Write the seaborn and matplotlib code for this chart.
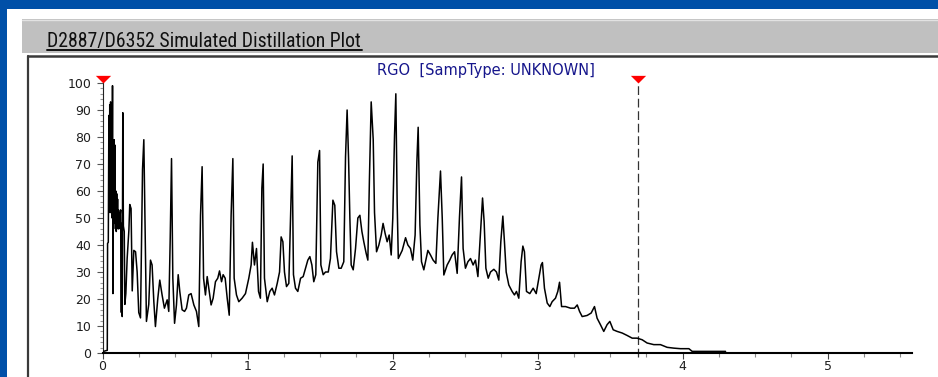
import matplotlib
matplotlib.use("Agg")
import numpy as np
import pandas as pd
import seaborn as sns
import matplotlib.pyplot as plt
from matplotlib.patches import Rectangle
from matplotlib.lines import Line2D
from matplotlib.ticker import MultipleLocator
import logging
logging.getLogger("matplotlib.font_manager").setLevel(logging.ERROR)

# ---------------- data ----------------
rt = [0.000, 0.020, 0.033, 0.035, 0.040, 0.044, 0.047, 0.050, 0.053, 0.056,
      0.059, 0.062, 0.066, 0.069, 0.072, 0.075, 0.078, 0.080, 0.083, 0.086,
      0.089, 0.092, 0.095, 0.098, 0.101, 0.104, 0.107, 0.110, 0.113, 0.116,
      0.120, 0.125, 0.130, 0.133, 0.136, 0.140, 0.144, 0.150, 0.154,
      0.161, 0.170, 0.182, 0.188, 0.197, 0.205, 0.216, 0.228, 0.239, 0.250,
      0.262, 0.276, 0.285, 0.294, 0.303, 0.319, 0.331, 0.342, 0.354, 0.365,
      0.381, 0.395, 0.411, 0.427, 0.446, 0.457, 0.467, 0.476, 0.485, 0.497,
      0.510, 0.522, 0.533, 0.549, 0.566, 0.579, 0.595, 0.611, 0.630, 0.648,
      0.664, 0.676, 0.687, 0.697, 0.710, 0.722, 0.736, 0.749, 0.763, 0.779,
      0.795, 0.807, 0.821, 0.832, 0.846, 0.860, 0.874, 0.887, 0.899, 0.908,
      0.924, 0.940, 0.963, 0.986, 1.009, 1.025, 1.034, 1.048, 1.062, 1.076,
      1.089, 1.099, 1.108, 1.117, 1.136, 1.154, 1.170, 1.186, 1.205, 1.221,
      1.232, 1.244, 1.255, 1.269, 1.285, 1.299, 1.308, 1.317, 1.331, 1.347,
      1.366, 1.384, 1.400, 1.416, 1.430, 1.444, 1.457, 1.471, 1.485, 1.497,
      1.506, 1.522, 1.538, 1.557, 1.572, 1.589, 1.602, 1.614, 1.630, 1.646,
      1.664, 1.676, 1.687, 1.697, 1.706, 1.715, 1.729, 1.745, 1.761, 1.775,
      1.789, 1.802, 1.818, 1.830, 1.841, 1.853, 1.867, 1.876, 1.890, 1.906,
      1.922, 1.935, 1.949, 1.963, 1.977, 1.991, 2.002, 2.014, 2.023, 2.032,
      2.040, 2.067, 2.090, 2.106, 2.124, 2.140, 2.156, 2.168, 2.177, 2.189,
      2.200, 2.216, 2.230, 2.244, 2.262, 2.280, 2.299, 2.313, 2.331, 2.343,
      2.354, 2.377, 2.395, 2.411, 2.428, 2.446, 2.462, 2.476, 2.487, 2.503,
      2.520, 2.538, 2.556, 2.572, 2.589, 2.602, 2.621, 2.632, 2.644, 2.660,
      2.676, 2.699, 2.717, 2.733, 2.747, 2.761, 2.772, 2.784, 2.802, 2.825,
      2.841, 2.855, 2.871, 2.887, 2.899, 2.910, 2.924, 2.947, 2.970, 2.991,
      3.009, 3.025, 3.034, 3.048, 3.067, 3.085, 3.101, 3.124, 3.140, 3.152,
      3.166, 3.193, 3.228, 3.255, 3.274, 3.290, 3.308, 3.342, 3.370, 3.393,
      3.411, 3.434, 3.457, 3.480, 3.499, 3.522, 3.549, 3.584, 3.618, 3.653,
      3.687, 3.722, 3.756, 3.802, 3.848, 3.894, 3.940, 3.986, 4.044, 4.067,
      4.297]

signal = [0.5, 0.8, 1.0, 40.6, 41.0, 88.0, 55.0, 92.0, 52.0, 93.0,
          56.0, 85.0, 50.0, 99.0, 22.0, 67.0, 50.0, 79.0, 48.0, 77.0,
          46.0, 60.0, 45.0, 59.0, 47.0, 57.0, 46.0, 53.0, 46.0, 52.0,
          50.0, 53.0, 15.0, 48.0, 13.5, 89.0, 47.0, 45.0, 18.0,
          22.0, 35.0, 45.5, 55.0, 53.5, 23.0, 38.0, 37.5, 30.0, 15.0,
          13.0, 68.0, 79.0, 46.0, 11.7, 18.0, 34.4, 32.6, 19.0, 9.8,
          20.0, 27.0, 21.5, 16.6, 19.7, 15.4, 42.4, 72.0, 27.7, 11.0,
          17.8, 29.0, 22.8, 16.0, 15.4, 16.6, 21.5, 22.0, 17.8, 15.4,
          9.8, 51.0, 69.0, 27.7, 21.5, 28.3, 22.8, 17.8, 20.3, 26.4,
          27.7, 30.4, 26.4, 29.0, 27.7, 20.3, 14.0, 51.0, 72.0, 27.7,
          21.5, 19.0, 20.3, 22.0, 27.7, 32.6, 41.0, 32.6, 38.7, 22.8,
          20.3, 61.0, 70.0, 27.7, 19.0, 22.8, 24.0, 21.5, 25.8, 30.0,
          43.0, 41.2, 30.0, 24.6, 25.8, 54.7, 73.0, 29.0, 24.0, 22.8,
          27.7, 28.3, 31.4, 34.4, 35.7, 32.6, 26.4, 29.0, 70.7, 75.0,
          32.6, 29.0, 30.0, 30.0, 35.0, 56.6, 54.7, 37.5, 31.4, 31.4,
          33.8, 72.6, 90.0, 72.0, 50.0, 32.6, 30.8, 38.7, 50.0, 51.0,
          45.0, 41.2, 37.0, 34.4, 64.6, 93.0, 79.0, 52.0, 37.5, 40.0,
          43.7, 48.0, 44.3, 41.2, 43.7, 36.3, 50.0, 80.6, 96.0, 56.0,
          35.0, 38.0, 42.7, 40.0, 38.7, 34.4, 43.7, 70.7, 83.6, 47.4,
          33.8, 30.8, 34.4, 38.0, 36.3, 34.4, 33.2, 50.0, 67.4, 50.0,
          28.9, 32.6, 34.4, 36.3, 37.5, 29.5, 50.4, 65.2, 38.7, 31.4,
          33.8, 35.0, 32.6, 34.4, 28.3, 40.0, 57.4, 48.6, 31.4, 27.7,
          30.0, 31.0, 30.0, 27.0, 41.2, 50.7, 41.2, 30.0, 25.2, 22.8,
          21.5, 22.8, 20.3, 33.8, 39.6, 37.5, 22.8, 22.0, 24.0, 22.0,
          27.7, 32.6, 33.5, 24.0, 18.5, 17.2, 19.0, 20.3, 22.8, 26.2,
          17.2, 17.2, 16.6, 16.6, 17.8, 15.4, 13.5, 13.9, 14.8, 17.2,
          12.9, 10.5, 8.0, 10.5, 11.7, 8.6, 8.0, 7.4, 6.5, 5.5,
          5.5, 4.9, 3.7, 3.1, 3.1, 2.1, 1.8, 1.6, 1.6, 0.6,
          0.6]

x_ticks = [0, 1, 2, 3, 4, 5]
y_ticks = [0, 10, 20, 30, 40, 50, 60, 70, 80, 90, 100]
marker_rt = [0.0, 3.69]
marker_level = [100, 100]
cut_rt = 3.69

header = "D2887/D6352 Simulated Distillation Plot"
plot_title = "RGO  [SampType: UNKNOWN]"

# ---------------- figure ----------------
sns.set_style("white")
plt.rcParams["font.family"] = ["DejaVu Sans"]

W, H = 938, 377
fig = plt.figure(figsize=(W / 100, H / 100), dpi=100)
fig.patch.set_facecolor("#0050A8")

def fx(px):
    return px / W

def fy(py):
    return 1 - py / H

# white panel
fig.add_artist(Rectangle((fx(7), 0), 1 - fx(7), fy(9), transform=fig.transFigure,
                         facecolor="white", edgecolor="none", zorder=-10))
# grey header bar
fig.add_artist(Rectangle((fx(22), fy(53)), 1 - fx(22), (53 - 19) / H, transform=fig.transFigure,
                         facecolor="#C0C0C0", edgecolor="none", zorder=-9))
fig.add_artist(Line2D([fx(22), 1], [fy(19.5), fy(19.5)], transform=fig.transFigure,
                      color="#E2E2E2", lw=1.0, zorder=-8))
# plot frame
fig.add_artist(Line2D([fx(27.5), fx(27.5)], [0, fy(56)], transform=fig.transFigure,
                      color="#3A3A3A", lw=1.6, zorder=-8))
fig.add_artist(Line2D([fx(27.5), 1], [fy(56), fy(56)], transform=fig.transFigure,
                      color="#3A3A3A", lw=1.8, zorder=-8))

# header text (fit to the reference width) + underline
hdr = fig.text(fx(47), fy(46.5), header, ha="left", va="baseline", fontsize=14,
               family=["DejaVu Sans Condensed", "Liberation Sans Narrow", "Roboto Condensed",
                       "Roboto", "DejaVu Sans"],
               fontstretch="condensed", color="#101010")
renderer = fig.canvas.get_renderer()
w = hdr.get_window_extent(renderer).width
if w > 0:
    hdr.set_fontsize(14 * 315.0 / w)
fig.add_artist(Line2D([fx(47), fx(362)], [fy(49.5), fy(49.5)], transform=fig.transFigure,
                      color="#101010", lw=1.4))

# plot title
fig.text(fx(486), fy(70), plot_title, ha="center", va="center", fontsize=10.5,
         color="#16168C")

# axes
x0_px, x1_px = 102.5, 912
y0_px, y100_px = 353, 83
ax = fig.add_axes([fx(x0_px), fy(y0_px), (x1_px - x0_px) / W, (y0_px - y100_px) / H])
ax.set_facecolor("none")

df = pd.DataFrame({"rt": rt, "signal": signal})
sns.lineplot(data=df, x="rt", y="signal", estimator=None, sort=False,
             color="black", lw=1.1, ax=ax, zorder=3)

ax.set_xlim(0, (x1_px - x0_px) / 145.0)
ax.set_ylim(0, 100)
ax.set_xlabel("")
ax.set_ylabel("")
ax.set_xticks(x_ticks)
ax.set_xticklabels([str(v) for v in x_ticks])
ax.set_yticks(y_ticks)
ax.set_yticklabels([str(v) for v in y_ticks])
ax.xaxis.set_minor_locator(MultipleLocator(0.25))
ax.yaxis.set_minor_locator(MultipleLocator(2))

ax.tick_params(axis="x", which="major", direction="out", length=4, width=0.8,
               color="#444444", pad=1, labelsize=9, labelcolor="#1E1E1E", bottom=True)
ax.tick_params(axis="x", which="minor", direction="out", length=3, width=0.8,
               color="#888888", bottom=True)
ax.tick_params(axis="y", which="major", direction="out", length=4, width=0.8,
               color="#555555", pad=4, labelsize=9, labelcolor="#1E1E1E", left=True)
ax.tick_params(axis="y", which="minor", direction="out", length=2, width=0.8,
               color="#999999", left=True)

for s in ["top", "right"]:
    ax.spines[s].set_visible(False)
ax.spines["bottom"].set_color("black")
ax.spines["bottom"].set_linewidth(1.5)
ax.spines["left"].set_color("#222222")
ax.spines["left"].set_linewidth(0.8)

# cut marker: dashed line
ax.plot([cut_rt, cut_rt], [-1.5, 100], color="#333333", lw=0.9,
        ls=(0, (7, 3)), clip_on=False, zorder=2)

# red triangle markers (tip at the level)
tri = [(-1, 1), (1, 1), (0, 0)]
ax.plot(marker_rt, marker_level, ls="none", marker=tri, markersize=11,
        color="#FF0000", markeredgewidth=0, clip_on=False, zorder=5)

fig.savefig("out.png", dpi=100, facecolor=fig.get_facecolor())
